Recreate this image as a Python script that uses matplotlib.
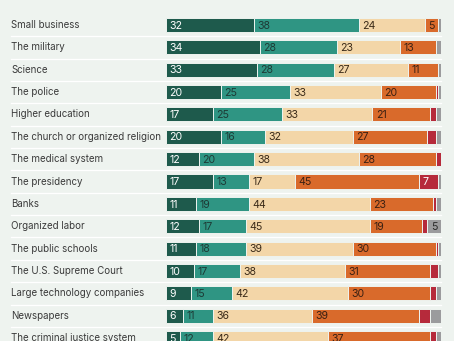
import matplotlib
matplotlib.use("Agg")
import matplotlib.pyplot as plt

institutions = [
    "Small business", "The military", "Science", "The police",
    "Higher education", "The church or organized religion",
    "The medical system", "The presidency", "Banks", "Organized labor",
    "The public schools", "The U.S. Supreme Court",
    "Large technology companies", "Newspapers", "The criminal justice system",
]
great_deal = [32, 34, 33, 20, 17, 20, 12, 17, 11, 12, 11, 10, 9, 6, 5]
quite_a_lot = [38, 28, 28, 25, 25, 16, 20, 13, 19, 17, 18, 17, 15, 11, 12]
some = [24, 23, 27, 33, 33, 32, 38, 17, 44, 45, 39, 38, 42, 36, 42]
very_little = [5, 13, 11, 20, 21, 27, 28, 45, 23, 19, 30, 31, 30, 39, 37]
none_at_all = [0, 0, 0, 1, 2, 3, 2, 7, 1, 2, 1, 3, 2, 4, 2]
no_opinion = [1, 2, 1, 1, 2, 2, 0, 1, 2, 5, 1, 1, 2, 4, 2]

series = [great_deal, quite_a_lot, some, very_little, none_at_all, no_opinion]
colors = ["#1e5a4c", "#2f9583", "#f3d6a8", "#d96a2b", "#b62a3b", "#9b9b9d"]
text_colors = ["white", "#1d3a35", "#3a2a18", "#3a2012", "white", "#2a2a2a"]

bg = "#eef3ef"
W, H = 454, 341
fig = plt.figure(figsize=(W / 100, H / 100), dpi=100, facecolor=bg)

left_px, right_px = 166, 441
row0_px, pitch_px = 25, 22.36
ax = fig.add_axes([left_px / W, 0, (right_px - left_px) / W, 1])
ax.set_facecolor(bg)
ax.set_xlim(0, 100)
ax.set_ylim((H - row0_px) / pitch_px, -row0_px / pitch_px)
ax.axis("off")

rows = list(range(len(institutions)))

# faint row dividers spanning label column and bars
x_label_px = 11
x0_data = (x_label_px - left_px) / (right_px - left_px) * 100
for i in rows[:-1]:
    ax.plot([x0_data, 100], [i + 0.5, i + 0.5], color="white", lw=0.9,
            clip_on=False, zorder=0)

starts = [0.0] * len(rows)
for vals, col, tcol in zip(series, colors, text_colors):
    ax.barh(rows, vals, left=starts, height=0.63, color=col,
            edgecolor=bg, linewidth=0.7, zorder=2)
    for i, (v, s) in enumerate(zip(vals, starts)):
        if v >= 5:
            ax.text(s + 1.3, i + 0.03, str(v), va="center", ha="left",
                    fontsize=7.6, color=tcol, family="Inter", zorder=3)
    starts = [s + v for s, v in zip(starts, vals)]

for i, name in enumerate(institutions):
    ax.text(x0_data, i, name, va="center", ha="left", fontsize=7.0,
            color="#3a3a3a", family="Inter", clip_on=False)

fig.savefig("out.png", dpi=100, facecolor=bg)
